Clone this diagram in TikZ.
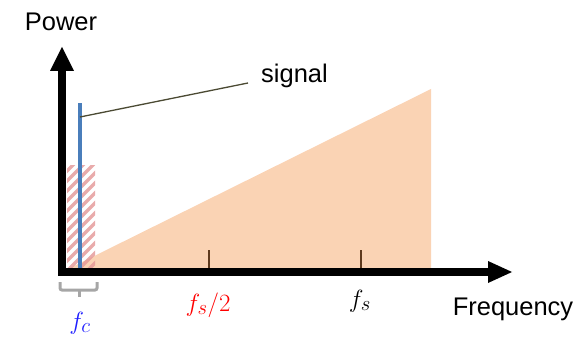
\documentclass[tikz,border=0pt]{standalone}
\usepackage{fontspec}
\setmainfont{Liberation Sans}
\begin{document}
\begin{tikzpicture}[x=1pt,y=1pt,
  lbl/.style={inner sep=0pt, font=\fontsize{25.5}{30}\selectfont},
  mlbl/.style={inner sep=0pt, font=\fontsize{28}{32}\selectfont}]
\definecolor{peach}{RGB}{250,211,180}
\definecolor{hatch}{RGB}{228,150,150}
\definecolor{sigblue}{RGB}{74,126,187}
\definecolor{leader}{RGB}{75,74,51}
\definecolor{tickc}{RGB}{94,58,30}
\definecolor{bracec}{RGB}{166,166,166}
\definecolor{fcblue}{RGB}{30,30,255}
\useasboundingbox (0,0) rectangle (587,338);
% noise triangle
\fill[peach] (62,66) -- (431,249) -- (431,66) -- cycle;
% hatched region
\begin{scope}
\clip (67,70) rectangle (95,172);
\foreach \k in {-4,...,11}
  \draw[hatch, line width=3.2pt, opacity=0.8] (60,70+\k*10) -- (100,110+\k*10);
\end{scope}
% ticks
\coordinate (t1a) at (209,68); \coordinate (t1b) at (209,88);
\coordinate (t2a) at (361,68); \coordinate (t2b) at (361,88);
\draw[tickc, line width=1.5pt] (t1a) -- (t1b);
\draw[tickc, line width=1.5pt] (t2a) -- (t2b);
% signal line
\coordinate (sigtop) at (80,235);
\coordinate (sigbot) at (80,68);
\draw[sigblue, line width=4pt] (sigbot) -- (sigtop);
% axes
\draw[line width=7.5pt, line join=miter] (62,268) -- (62,66) -- (489,66);
\fill (62,291) -- (50,267) -- (74,267) -- cycle;
\fill (512,66) -- (488,77) -- (488,55) -- cycle;
% labels
\node[lbl] (power) at (61,316) {Power};
\node[lbl] (freq) at (513,29) {Frequency};
\node[lbl, anchor=west] (signal) at (261,262) {signal};
\coordinate (lead) at (80,221);
\coordinate (leadend) at (248,255);
\draw[leader, line width=1.3pt] (lead) -- (leadend);
\node[mlbl, text=red] (fs2) at (208,33) {$f_s/2$};
\node[mlbl] (fs) at (360,37) {$f_s$};
% brace
\draw[bracec, line width=3pt, rounded corners=2pt] (60,56) -- (60,48) -- (97,48) -- (97,56);
\draw[bracec, line width=3pt] (79,48) -- (79,41);
\node[mlbl, text=fcblue] (fc) at (80,15) {$f_c$};
\end{tikzpicture}
\end{document}
